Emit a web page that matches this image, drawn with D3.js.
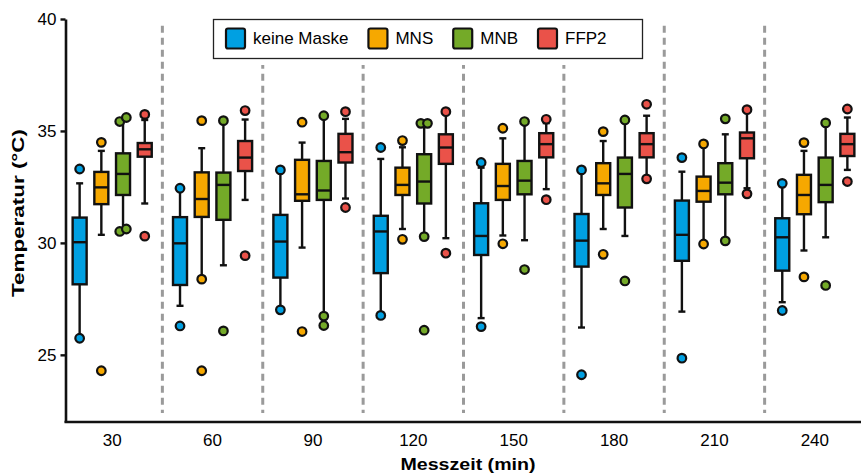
<!DOCTYPE html>
<html>
<head>
<meta charset="utf-8">
<script src="https://cdn.jsdelivr.net/npm/d3@7"></script>
<style>
  body { margin: 0; background: #fff; }
  text { font-family: "Liberation Sans", Arial, sans-serif; fill: #000; }
</style>
</head>
<body>
<svg width="861" height="476"></svg>
<script>
// Messzeiten (Kategorien)
const zeiten = ["30", "60", "90", "120", "150", "180", "210", "240"];
const gruppen = ["keine Maske", "MNS", "MNB", "FFP2"];
const farben = ["#00a0e2", "#f6a800", "#74aa28", "#ea5249"];
const yTicks = [25, 30, 35, 40];

// je Zeit: [unteres Whisker-Ende, Q1, Median, Q3, oberes Whisker-Ende]
const keineMaske = [
  [25.74, 28.15, 30.03, 31.13, 32.66], [27.19, 28.12, 29.98, 31.15, 32.44],
  [27.01, 28.45, 30.06, 31.25, 33.26], [26.76, 28.65, 30.51, 31.21, 33.75],
  [26.64, 29.46, 30.31, 31.77, 33.36], [26.22, 28.94, 30.10, 31.29, 33.26],
  [26.93, 29.20, 30.36, 31.89, 33.18], [27.35, 28.76, 30.25, 31.10, 32.66]
];
const mns = [
  [30.36, 31.73, 32.48, 33.17, 34.11], [28.38, 31.16, 31.96, 33.15, 34.23],
  [29.79, 31.88, 32.17, 33.71, 34.48], [30.62, 32.14, 32.59, 33.36, 34.27],
  [30.33, 31.92, 32.54, 33.53, 34.67], [30.62, 32.14, 32.66, 33.56, 34.55],
  [29.95, 31.84, 32.32, 32.96, 34.42], [29.66, 31.28, 32.14, 33.04, 34.11]
];
const mnb = [
  [30.56, 32.14, 33.08, 34.00, 35.50], [29.00, 31.03, 32.59, 33.14, 35.46],
  [26.73, 31.92, 32.34, 33.66, 35.68], [30.28, 31.76, 32.74, 33.96, 35.34],
  [30.12, 32.17, 32.78, 33.66, 35.42], [30.31, 31.58, 33.08, 33.81, 35.49],
  [30.09, 32.17, 32.69, 33.56, 34.85], [30.25, 31.82, 32.59, 33.81, 35.36]
];
const ffp2 = [
  [31.76, 33.85, 34.18, 34.46, 35.49], [31.92, 33.21, 33.81, 34.55, 35.51],
  [31.98, 33.59, 34.05, 34.87, 35.54], [30.21, 33.53, 34.26, 34.85, 35.86],
  [32.40, 33.82, 34.41, 34.90, 35.35], [32.86, 33.82, 34.41, 34.90, 35.68],
  [32.44, 33.78, 34.67, 34.93, 35.95], [33.26, 33.88, 34.41, 34.87, 35.60]
];

// Ausreißer / Extremwerte je Zeit
const keineMaskeOut = [[33.30, 25.74], [32.44, 26.29], [33.26, 27.01], [34.26, 26.76],
  [33.59, 26.26], [33.26, 24.11], [33.81, 24.85], [32.66, 26.98]];
const mnsOut = [[34.49, 24.29], [35.46, 28.38, 24.29], [35.39, 26.04], [34.57, 30.16],
  [35.12, 29.96], [34.97, 29.49], [34.42, 29.95], [34.48, 28.48]];
const mnbOut = [[35.42, 35.60, 30.51, 30.62], [35.46, 26.07], [35.68, 26.73, 26.31],
  [35.34, 35.34, 30.28, 26.10], [35.42, 28.81], [35.49, 28.30], [35.54, 30.09], [35.36, 28.10]];
const ffp2Out = [[35.74, 30.30], [35.91, 29.43], [35.86, 31.58], [35.86, 29.54],
  [35.52, 31.93], [36.19, 32.86], [35.95, 32.19], [35.98, 32.74]];

const boxWerte = [keineMaske, mns, mnb, ffp2];
const ausreisser = [keineMaskeOut, mnsOut, mnbOut, ffp2Out];

var svg = d3.select("svg");

var x = d3.scaleBand().domain(zeiten).range([62, 865]).paddingInner(0).paddingOuter(0);
var xInner = d3.scaleBand().domain(gruppen).range([-43.4, 43.4]);
var y = d3.scaleLinear().domain([22, 40]).range([422, 19]);
var boxW = 14;

// gestrichelte Trennlinien
svg.append("g")
  .selectAll("line")
  .data(zeiten.slice(1))
  .enter().append("line")
    .attr("x1", d => x(d)).attr("x2", d => x(d))
    .attr("y1", y(39.7)).attr("y2", y(22.4))
    .attr("stroke", "#9a9a9a")
    .attr("stroke-width", 3)
    .attr("stroke-dasharray", "7,5");

// Boxplots
const boxen = [];
gruppen.forEach((g, gi) => {
  zeiten.forEach((t, ti) => {
    boxen.push({ g: g, gi: gi, t: t, v: boxWerte[gi][ti], out: ausreisser[gi][ti] });
  });
});

const bg = svg.append("g").selectAll("g")
  .data(boxen)
  .enter().append("g")
    .attr("transform", d => "translate(" + (x(d.t) + x.bandwidth() / 2 + xInner(d.g) + xInner.bandwidth() / 2) + ",0)");

// Whisker
bg.append("line")
  .attr("x1", 0).attr("x2", 0)
  .attr("y1", d => y(d.v[0])).attr("y2", d => y(d.v[4]))
  .attr("stroke", "#111").attr("stroke-width", 2.4);
bg.selectAll(".cap")
  .data(d => [d.v[0], d.v[4]])
  .enter().append("line")
    .attr("class", "cap")
    .attr("x1", -3.5).attr("x2", 3.5)
    .attr("y1", d => y(d)).attr("y2", d => y(d))
    .attr("stroke", "#111").attr("stroke-width", 2.4);

// Box
bg.append("rect")
  .attr("x", -boxW / 2).attr("width", boxW)
  .attr("y", d => y(d.v[3]))
  .attr("height", d => y(d.v[1]) - y(d.v[3]))
  .attr("fill", d => farben[d.gi])
  .attr("stroke", "#111").attr("stroke-width", 2.4);
bg.append("line")
  .attr("x1", -boxW / 2).attr("x2", boxW / 2)
  .attr("y1", d => y(d.v[2])).attr("y2", d => y(d.v[2]))
  .attr("stroke", "#111").attr("stroke-width", 2.4);

// Ausreißer (nahe beieinander liegende Punkte leicht nebeneinander)
bg.selectAll("circle")
  .data(d => {
    const s = d.out.slice().sort((a, b) => a - b);
    return s.map((v, i) => {
      let dx = 0;
      if (i > 0 && v - s[i - 1] < 0.25) dx = 3.3;
      else if (i < s.length - 1 && s[i + 1] - v < 0.25) dx = -3.3;
      return { v: v, dx: dx, gi: d.gi };
    });
  })
  .enter().append("circle")
    .attr("cx", d => d.dx)
    .attr("cy", d => y(d.v))
    .attr("r", 4.3)
    .attr("fill", d => farben[d.gi])
    .attr("stroke", "#111").attr("stroke-width", 2.2);

// Achsen
var yAxis = svg.append("g")
  .attr("transform", "translate(65.5,0)")
  .call(d3.axisLeft(y).tickValues(yTicks).tickSize(5).tickSizeOuter(0).tickPadding(4));
yAxis.select(".domain").attr("stroke", "#111").attr("stroke-width", 2.6);
yAxis.selectAll(".tick line").attr("stroke", "#111").attr("stroke-width", 2.4);
yAxis.selectAll(".tick text").style("font-size", "17px").attr("fill", "#111");

var xAxis = svg.append("g")
  .attr("transform", "translate(0,422)")
  .call(d3.axisBottom(x).tickSize(0).tickPadding(12));
xAxis.select(".domain").attr("d", "M64.5,0H861").attr("stroke", "#111").attr("stroke-width", 2.6);
xAxis.selectAll(".tick text").style("font-size", "17px").attr("fill", "#111");

svg.append("text")
  .attr("x", 468).attr("y", 470)
  .attr("text-anchor", "middle")
  .attr("textLength", 135).attr("lengthAdjust", "spacingAndGlyphs")
  .style("font-size", "16.5px").style("font-weight", "bold")
  .text("Messzeit (min)");

svg.append("text")
  .attr("transform", "translate(24,213) rotate(-90)")
  .attr("text-anchor", "middle")
  .attr("textLength", 168).attr("lengthAdjust", "spacingAndGlyphs")
  .style("font-size", "16.5px").style("font-weight", "bold")
  .text("Temperatur (°C)");

// Legende
var leg = svg.append("g");
leg.append("rect")
  .attr("x", 205).attr("y", 12).attr("width", 446).attr("height", 53)
  .attr("fill", "#fff");
leg.append("rect")
  .attr("x", 213.5).attr("y", 19.5).attr("width", 429).attr("height", 39)
  .attr("fill", "#fff").attr("stroke", "#222").attr("stroke-width", 1.3);

var lx = 226;
gruppen.forEach((g, i) => {
  leg.append("rect")
    .attr("x", lx).attr("y", 28.5).attr("width", 19).attr("height", 20).attr("rx", 2)
    .attr("fill", farben[i]).attr("stroke", "#111").attr("stroke-width", 2.2);
  var t = leg.append("text")
    .attr("x", lx + 27).attr("y", 44)
    .style("font-size", "17px")
    .text(g);
  lx += 27 + t.node().getComputedTextLength() + 20;
});
</script>
</body>
</html>
